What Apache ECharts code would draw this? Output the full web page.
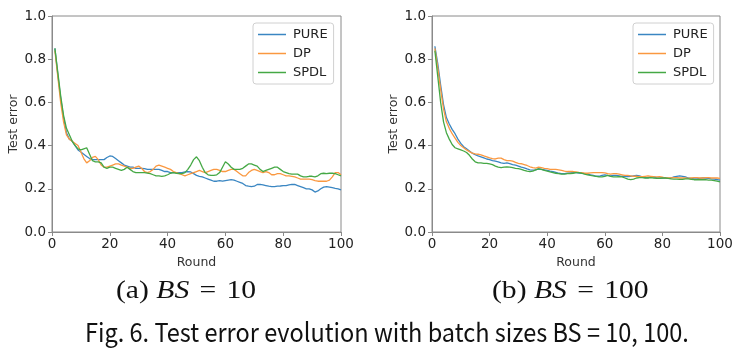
<!DOCTYPE html>
<html><head><meta charset="utf-8">
<script src="https://cdn.jsdelivr.net/npm/echarts@6/dist/echarts.min.js"></script>
<style>html,body{margin:0;padding:0;background:#fff}#c{width:740px;height:360px}</style>
</head><body><div id="c"></div>
<script>
const seriesNames = ['PURE', 'DP', 'SPDL'];
const xTicks = [0, 20, 40, 60, 80, 100];
const yTicks = [0.0, 0.2, 0.4, 0.6, 0.8, 1.0];
const figCaption = 'Fig. 6. Test error evolution with batch sizes BS = 10, 100.';

// BS = 10, rounds 1..100
const pure10 = [0.85,0.73,0.62,0.53,0.46,0.43,0.42,0.40,0.38,0.37,0.36,0.35,0.34,0.335,0.335,0.335,0.335,0.335,0.345,0.352,
0.35,0.34,0.33,0.32,0.31,0.305,0.30,0.30,0.295,0.295,0.295,0.293,0.29,0.29,0.29,0.29,0.29,0.285,0.28,0.28,
0.275,0.275,0.275,0.275,0.275,0.278,0.28,0.278,0.27,0.262,0.258,0.255,0.25,0.245,0.24,0.235,0.235,0.238,0.235,0.238,
0.24,0.242,0.24,0.235,0.23,0.225,0.215,0.212,0.21,0.212,0.22,0.22,0.218,0.215,0.212,0.21,0.21,0.212,0.213,0.215,
0.215,0.218,0.22,0.22,0.215,0.21,0.205,0.20,0.20,0.195,0.185,0.19,0.20,0.208,0.21,0.208,0.205,0.202,0.20,0.195];
const dp10 = [0.84,0.72,0.60,0.51,0.45,0.43,0.42,0.41,0.40,0.37,0.34,0.32,0.33,0.345,0.35,0.335,0.31,0.30,0.30,0.305,
0.31,0.315,0.315,0.31,0.305,0.30,0.295,0.295,0.30,0.305,0.295,0.28,0.275,0.28,0.29,0.305,0.31,0.305,0.30,0.295,
0.29,0.28,0.275,0.27,0.265,0.26,0.265,0.27,0.275,0.28,0.285,0.28,0.275,0.28,0.285,0.29,0.29,0.285,0.28,0.28,
0.285,0.29,0.29,0.28,0.27,0.26,0.26,0.275,0.285,0.29,0.285,0.28,0.275,0.28,0.275,0.265,0.265,0.27,0.27,0.265,
0.26,0.26,0.258,0.255,0.25,0.245,0.245,0.245,0.245,0.242,0.238,0.235,0.235,0.235,0.235,0.24,0.255,0.275,0.275,0.265];
const spdl10 = [0.85,0.74,0.63,0.54,0.48,0.45,0.42,0.40,0.385,0.38,0.385,0.39,0.36,0.33,0.325,0.325,0.32,0.30,0.295,0.30,
0.30,0.295,0.29,0.285,0.29,0.30,0.29,0.28,0.275,0.275,0.275,0.275,0.273,0.27,0.265,0.26,0.26,0.258,0.26,0.265,
0.272,0.275,0.272,0.27,0.27,0.275,0.29,0.31,0.335,0.348,0.33,0.30,0.275,0.265,0.262,0.262,0.265,0.275,0.30,0.325,
0.315,0.30,0.29,0.29,0.29,0.295,0.305,0.315,0.315,0.31,0.305,0.29,0.28,0.285,0.29,0.295,0.30,0.30,0.29,0.28,
0.275,0.27,0.268,0.268,0.268,0.26,0.255,0.255,0.258,0.258,0.255,0.26,0.27,0.272,0.27,0.272,0.272,0.27,0.265,0.26];

// BS = 100, rounds 1..100
const pure100 = [0.86,0.78,0.68,0.59,0.53,0.50,0.475,0.455,0.43,0.41,0.395,0.385,0.375,0.365,0.358,0.352,0.348,0.343,0.338,0.335,
0.33,0.328,0.325,0.32,0.318,0.32,0.316,0.312,0.31,0.305,0.30,0.297,0.292,0.288,0.286,0.288,0.292,0.29,0.288,0.285,
0.282,0.28,0.276,0.272,0.27,0.27,0.272,0.274,0.275,0.275,0.273,0.272,0.27,0.268,0.265,0.262,0.258,0.258,0.262,0.265,
0.262,0.26,0.262,0.262,0.26,0.258,0.257,0.256,0.258,0.26,0.262,0.26,0.255,0.252,0.252,0.255,0.255,0.252,0.25,0.25,
0.25,0.248,0.25,0.255,0.258,0.26,0.258,0.255,0.25,0.248,0.246,0.246,0.248,0.25,0.25,0.248,0.246,0.245,0.243,0.24];
const dp100 = [0.85,0.76,0.66,0.57,0.51,0.48,0.455,0.435,0.415,0.40,0.39,0.38,0.372,0.365,0.362,0.36,0.357,0.352,0.348,0.343,
0.34,0.338,0.342,0.342,0.335,0.33,0.33,0.328,0.322,0.318,0.316,0.312,0.308,0.302,0.298,0.296,0.30,0.298,0.295,0.293,
0.29,0.29,0.29,0.288,0.285,0.282,0.28,0.28,0.28,0.278,0.276,0.275,0.272,0.272,0.274,0.275,0.275,0.275,0.275,0.274,
0.27,0.268,0.27,0.27,0.268,0.265,0.262,0.262,0.26,0.258,0.258,0.256,0.256,0.258,0.26,0.258,0.256,0.255,0.256,0.254,
0.25,0.25,0.25,0.252,0.252,0.25,0.25,0.25,0.248,0.25,0.252,0.252,0.25,0.25,0.252,0.252,0.25,0.25,0.25,0.248];
const spdl100 = [0.84,0.72,0.60,0.51,0.46,0.43,0.405,0.39,0.385,0.38,0.375,0.368,0.355,0.338,0.325,0.32,0.32,0.318,0.318,0.315,
0.312,0.305,0.30,0.298,0.30,0.302,0.30,0.298,0.295,0.293,0.29,0.285,0.282,0.28,0.282,0.288,0.292,0.29,0.285,0.282,
0.278,0.275,0.272,0.27,0.268,0.268,0.27,0.27,0.272,0.275,0.275,0.272,0.268,0.265,0.262,0.26,0.258,0.255,0.255,0.258,
0.262,0.258,0.255,0.255,0.256,0.255,0.25,0.245,0.242,0.245,0.25,0.252,0.252,0.25,0.25,0.252,0.25,0.248,0.248,0.25,
0.25,0.248,0.246,0.245,0.245,0.244,0.244,0.246,0.246,0.244,0.242,0.242,0.242,0.242,0.242,0.24,0.24,0.238,0.235,0.232];

const colors = ['#3a86c2', '#fa9840', '#45a845'];
const pair = arr => arr.map((v, i) => [i + 1, v]);

const chart = echarts.init(document.getElementById('c'), null, {renderer: 'canvas'});
const tickFont = {fontFamily: 'DejaVu Sans', fontSize: 13.5, color: '#222'};
const axisLineStyle = {color: '#8a8a8a', width: 1};

function xAxisFor(gi) {
  return {
    type: 'value', gridIndex: gi, min: xTicks[0], max: xTicks[xTicks.length - 1], interval: xTicks[1] - xTicks[0],
    name: 'Round', nameLocation: 'middle', nameGap: 20,
    nameTextStyle: {fontFamily: 'DejaVu Sans', fontSize: 12.5, color: '#333'},
    axisLine: {show: true, onZero: false, lineStyle: axisLineStyle},
    axisTick: {show: true, length: 4, lineStyle: axisLineStyle},
    axisLabel: Object.assign({margin: 5}, tickFont),
    splitLine: {show: false}
  };
}
function yAxisFor(gi) {
  return {
    type: 'value', gridIndex: gi, min: yTicks[0], max: yTicks[yTicks.length - 1], interval: 0.2,
    name: 'Test error', nameLocation: 'middle', nameGap: 30,
    nameTextStyle: {fontFamily: 'DejaVu Sans', fontSize: 12.5, color: '#333'},
    axisLine: {show: true, onZero: false, lineStyle: axisLineStyle},
    axisTick: {show: true, length: 4, lineStyle: axisLineStyle},
    axisLabel: Object.assign({margin: 6, formatter: v => v.toFixed(1)}, tickFont),
    splitLine: {show: false}
  };
}
function legendFor(left) {
  return {
    orient: 'vertical', left: left, top: 23, data: seriesNames,
    icon: 'rect', itemWidth: 28, itemHeight: 1.5, itemGap: 6,
    textStyle: {fontFamily: 'DejaVu Sans', fontSize: 13, color: '#222', padding: [0, 0, 0, 2]},
    borderColor: '#d0d0d0', borderWidth: 1, borderRadius: 3,
    padding: [5, 6, 5, 5], backgroundColor: '#fff'
  };
}
const data10 = [pure10, dp10, spdl10];
const data100 = [pure100, dp100, spdl100];
const series = [];
[data10, data100].forEach((set, gi) => {
  set.forEach((arr, si) => {
    series.push({
      name: seriesNames[si], type: 'line', xAxisIndex: gi, yAxisIndex: gi,
      data: pair(arr), showSymbol: false, symbol: 'none', smooth: false,
      lineStyle: {width: 1.3, color: colors[si]}, itemStyle: {color: colors[si]},
      animation: false, z: 3 + si
    });
  });
});

const capRich = {
  n: {fontFamily: 'Liberation Serif', fontSize: 26, fill: '#111'},
  i: {fontFamily: 'Liberation Serif', fontStyle: 'italic', fontSize: 26, fill: '#111'},
  e: {fontFamily: 'Liberation Serif', fontSize: 26, fill: '#111', padding: [0, 9, 0, 9]}
};

chart.setOption({
  animation: false,
  color: colors,
  grid: [
    {left: 52, top: 16, width: 289, height: 216, show: true, borderColor: '#8a8a8a', borderWidth: 1, backgroundColor: 'transparent'},
    {left: 432, top: 16, width: 288, height: 216, show: true, borderColor: '#8a8a8a', borderWidth: 1, backgroundColor: 'transparent'}
  ],
  xAxis: [xAxisFor(0), xAxisFor(1)],
  yAxis: [yAxisFor(0), yAxisFor(1)],
  legend: [legendFor(253), legendFor(633)],
  series: series,
  graphic: [
    {type: 'text', x: 116, y: 278, scaleX: 1.14, style: {
      text: '{n|(a) }{i|BS}{e|=}{n|10}', rich: capRich}},
    {type: 'text', x: 492, y: 278, scaleX: 1.14, style: {
      text: '{n|(b) }{i|BS}{e|=}{n|100}', rich: capRich}},
    {type: 'text', x: 85, y: 319, scaleX: 0.905, style: {
      text: figCaption, font: '26px "Noto Sans CJK SC"', fill: '#111'}}
  ]
});
</script></body></html>
